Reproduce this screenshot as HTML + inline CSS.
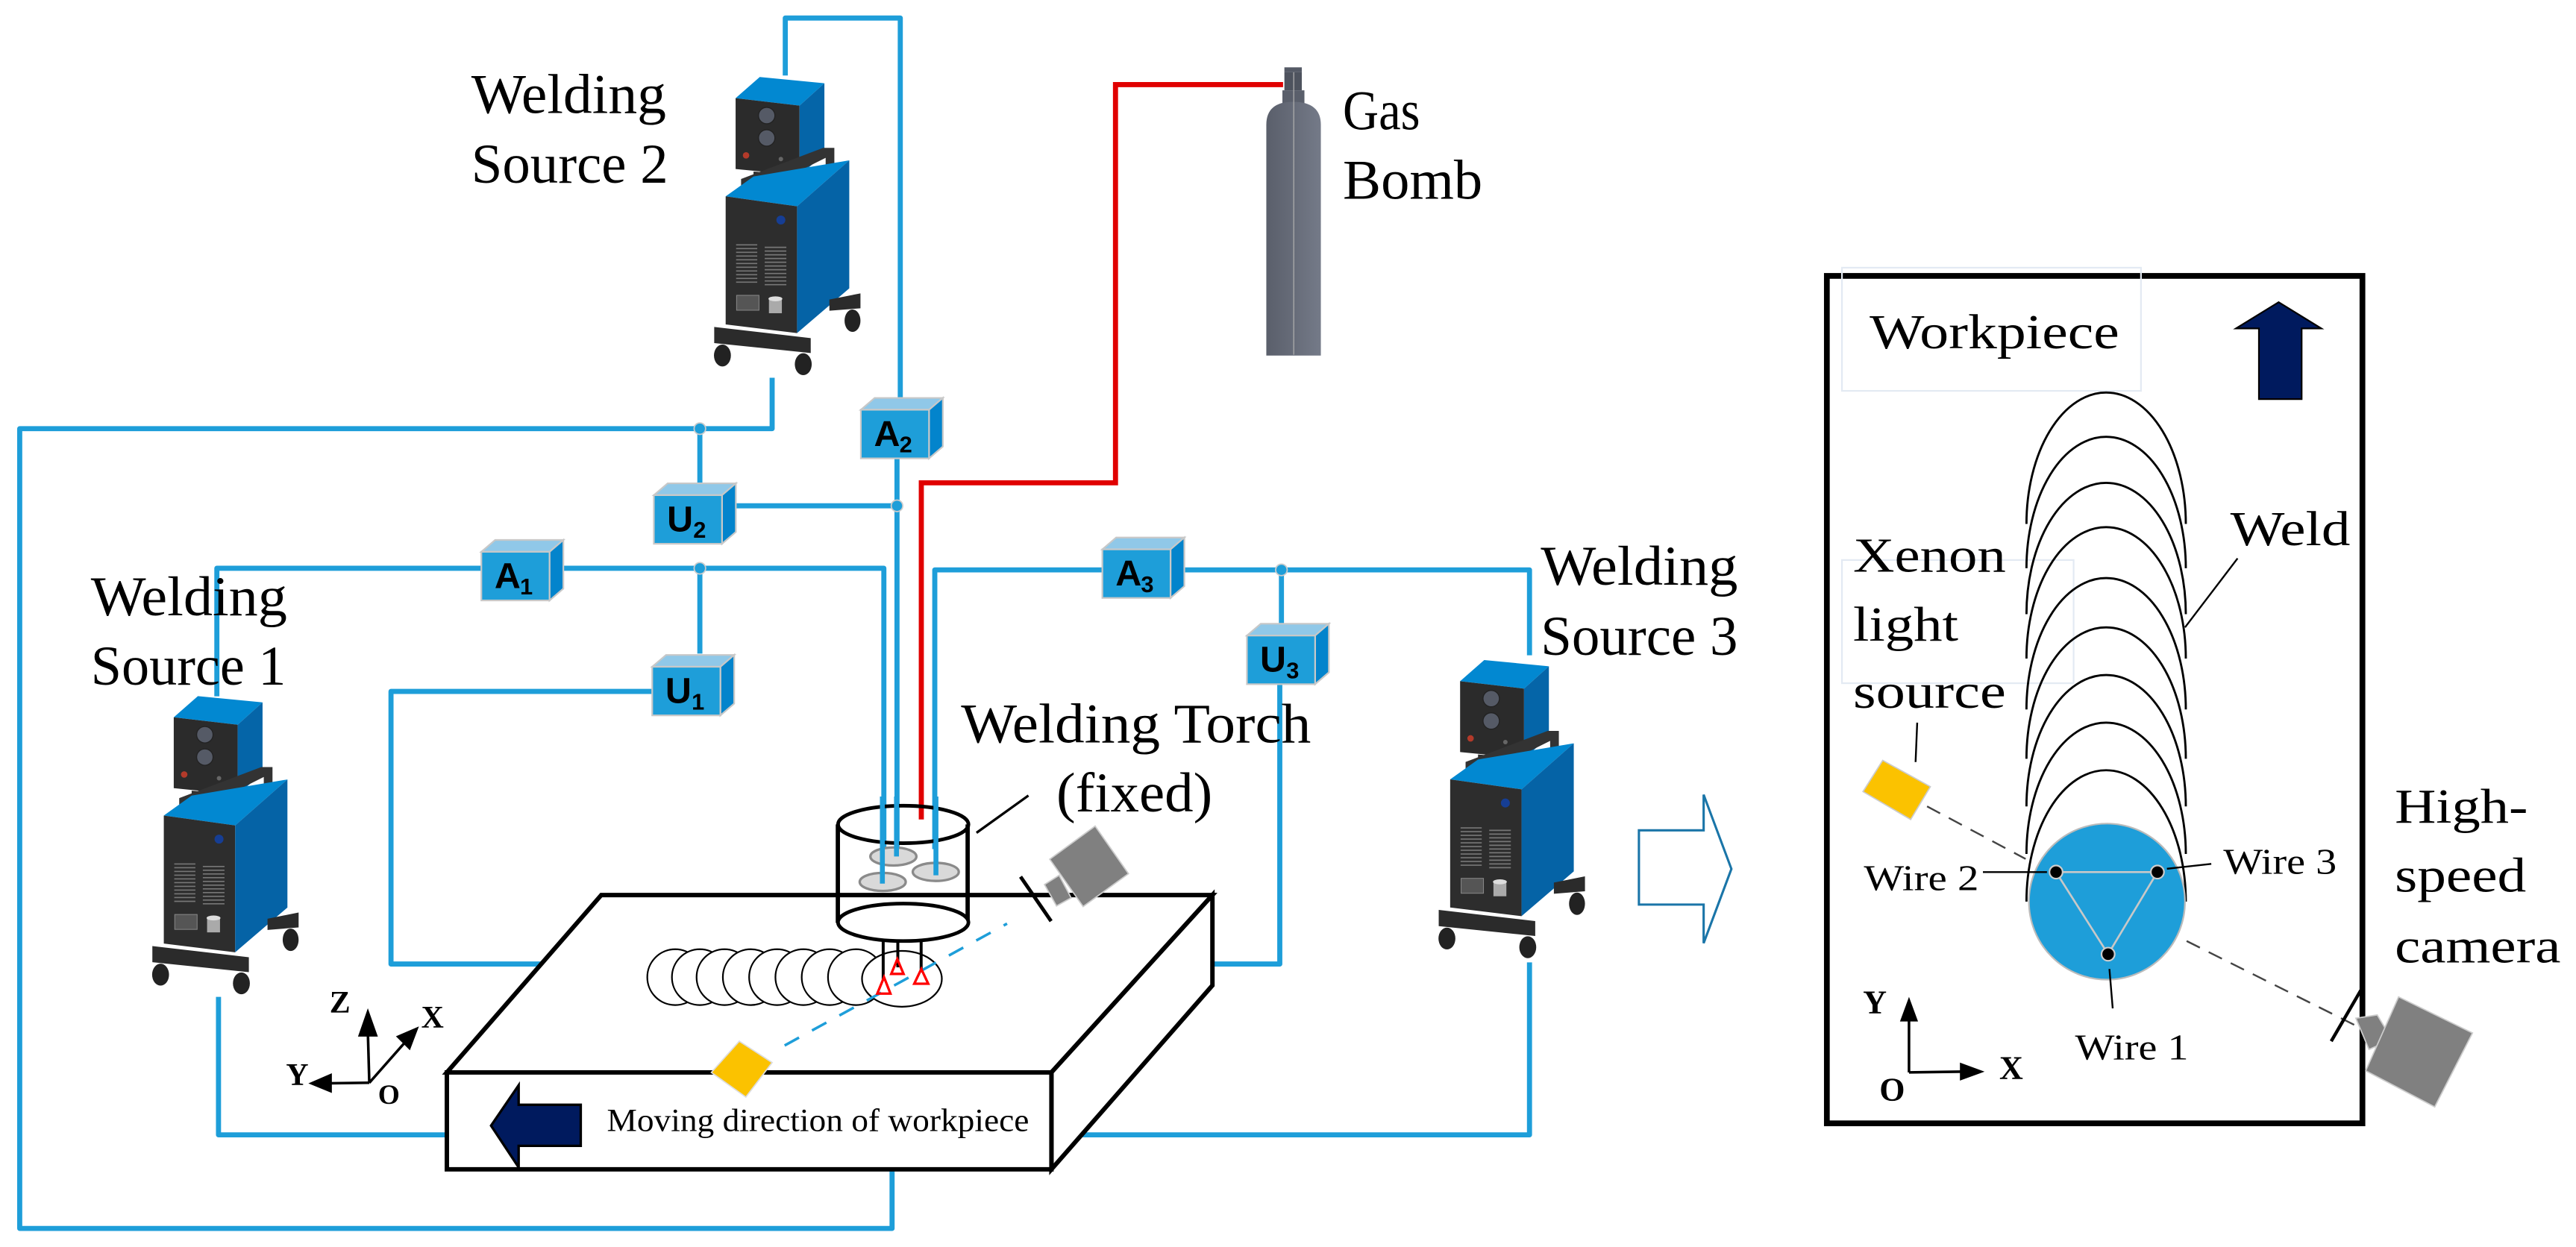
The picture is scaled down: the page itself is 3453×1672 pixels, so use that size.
<!DOCTYPE html>
<html><head><meta charset="utf-8"><style>
html,body{margin:0;padding:0;background:#fff}
svg{display:block}
text{font-family:"Liberation Serif",serif;fill:#000}
.b{fill:none;stroke:#1e9ed9;stroke-width:3.1;stroke-linejoin:round}
.k{fill:none;stroke:#000;stroke-width:2.6}
.lab{font-family:"Liberation Sans",sans-serif;font-weight:bold;font-size:22px}
.sub{font-family:"Liberation Sans",sans-serif;font-weight:bold;font-size:14px}
</style></head><body>
<svg width="3453" height="1672" viewBox="0 0 1568 759.3" preserveAspectRatio="none" xmlns="http://www.w3.org/2000/svg">
<defs>
<g id="mach">
 <polygon points="258,155 355,70 615,95 515,185" fill="#0288d1"/>
 <polygon points="258,155 515,185 515,465 258,440" fill="#2b2b2b"/>
 <polygon points="515,185 615,95 615,380 515,465" fill="#0565a8"/>
 <circle cx="383" cy="225" r="33" fill="#555a66" stroke="#222" stroke-width="4"/>
 <circle cx="383" cy="315" r="33" fill="#555a66" stroke="#222" stroke-width="4"/>
 <circle cx="300" cy="385" r="13" fill="#b33a2a"/>
 <circle cx="440" cy="400" r="9" fill="#666"/><circle cx="440" cy="430" r="9" fill="#666"/>
 <polygon points="330,450 450,460 450,520 330,510" fill="#2f2f2f"/>
 <polygon points="280,480 610,355 655,355 655,425 620,425 620,395 490,460 490,565 445,565 445,520 325,510 325,545 280,540" fill="#333"/>
 <polygon points="218,550 330,470 715,405 505,590" fill="#0288d1"/>
 <polygon points="218,550 505,590 505,1100 218,1065" fill="#2d2d2d"/>
 <polygon points="505,590 715,405 715,920 505,1100" fill="#0563a6"/>
 <circle cx="440" cy="645" r="18" fill="#163e94"/>
 <g stroke="#777" stroke-width="5">
  <path d="M260,745H345M260,760H345M260,775H345M260,790H345M260,805H345M260,820H345M260,835H345M260,850H345M260,865H345M260,880H345M260,895H345"/>
  <path d="M375,755H462M375,770H462M375,785H462M375,800H462M375,815H462M375,830H462M375,845H462M375,860H462M375,875H462M375,890H462M375,905H462"/>
 </g>
 <rect x="262" y="948" width="90" height="60" fill="#555" stroke="#888" stroke-width="3"/>
 <rect x="392" y="960" width="52" height="60" fill="#aaa"/><ellipse cx="418" cy="962" rx="28" ry="10" fill="#ddd"/>
 <polygon points="635,965 760,940 760,1000 635,1010" fill="#2b2b2b"/>
 <ellipse cx="728" cy="1050" rx="32" ry="45" fill="#222"/>
 <polygon points="172,1075 560,1120 560,1180 172,1140" fill="#2b2b2b"/>
 <ellipse cx="205" cy="1190" rx="34" ry="44" fill="#222"/>
 <ellipse cx="530" cy="1225" rx="34" ry="44" fill="#222"/>
</g>
</defs>

<!-- machines -->
<use href="#mach" transform="translate(408.7,36.3) scale(0.1514)"/>
<use href="#mach" transform="translate(66.7,413.3) scale(0.1514)"/>
<use href="#mach" transform="translate(849.7,391.3) scale(0.1514)"/>

<!-- blue wiring -->
<path class="b" d="M478,46V11H548V242M546,278V523"/>
<path class="b" d="M470,230V261H12V748H543V712"/>
<path class="b" d="M426,261V294M448,308H546"/>
<path class="b" d="M132,424V346H293M343,346H538V523"/>
<path class="b" d="M426,346V398M397,421H238V587H330"/>
<path class="b" d="M133,607V691H272"/>
<path class="b" d="M569,517V347H671M721,347H931V399"/>
<path class="b" d="M780,347V380M779,416V587H738"/>
<path class="b" d="M931,586V691H656"/>
<circle cx="426" cy="261" r="3.5" fill="#1e9ed9" stroke="#ccc" stroke-width="0.8"/>
<circle cx="546" cy="308" r="3.5" fill="#1e9ed9" stroke="#ccc" stroke-width="0.8"/>
<circle cx="426" cy="346" r="3.5" fill="#1e9ed9" stroke="#ccc" stroke-width="0.8"/>
<circle cx="780" cy="347" r="3.5" fill="#1e9ed9" stroke="#ccc" stroke-width="0.8"/>

<!-- red gas line -->
<path d="M560.8,499V294H679V51.5H781" fill="none" stroke="#e00000" stroke-width="3.1"/>

<!-- gas bomb -->
<defs><linearGradient id="gb" x1="0" x2="1"><stop offset="0" stop-color="#5a5f6b"/><stop offset="0.5" stop-color="#676c79"/><stop offset="1" stop-color="#747a88"/></linearGradient></defs>
<rect x="781.8" y="41" width="10.6" height="3" fill="#555a66"/>
<rect x="781.8" y="44" width="10.6" height="11" fill="#4e535e"/>
<rect x="780.6" y="55" width="13.4" height="8" fill="#5a5f6b"/>
<path d="M770.8,216.5V76Q770.8,62 787,62Q804,62 804,76V216.5Z" fill="url(#gb)"/>
<line x1="787.5" y1="44" x2="787.5" y2="216" stroke="#aaa" stroke-width="0.6"/>
<text x="817.4" y="78.7" font-size="34" textLength="47" lengthAdjust="spacingAndGlyphs">Gas</text>
<text x="817.4" y="121.1" font-size="34" textLength="85" lengthAdjust="spacingAndGlyphs">Bomb</text>

<!-- labels -->
<text x="286.9" y="68.9" font-size="34" textLength="118.6" lengthAdjust="spacingAndGlyphs">Welding</text>
<text x="286.9" y="111.3" font-size="34" textLength="119.8" lengthAdjust="spacingAndGlyphs">Source 2</text>
<text x="55.3" y="374.7" font-size="34" textLength="119.5" lengthAdjust="spacingAndGlyphs">Welding</text>
<text x="55.3" y="417" font-size="34" textLength="118.8" lengthAdjust="spacingAndGlyphs">Source 1</text>
<text x="937.8" y="356.1" font-size="34" textLength="120" lengthAdjust="spacingAndGlyphs">Welding</text>
<text x="937.8" y="398.7" font-size="34" textLength="120" lengthAdjust="spacingAndGlyphs">Source 3</text>
<text x="585" y="452" font-size="34" textLength="213" lengthAdjust="spacingAndGlyphs">Welding Torch</text>
<text x="643" y="494" font-size="34" textLength="95" lengthAdjust="spacingAndGlyphs">(fixed)</text>

<!-- A/U boxes -->
<g stroke="#c8c8c8" stroke-width="1">
<g transform="translate(293,336)"><polygon points="0,0 8.4,-7.2 49.9,-7.2 41.5,0" fill="#90c8e8"/><polygon points="41.5,0 49.9,-7.2 49.9,22.4 41.5,29.6" fill="#0384cc"/><rect width="41.5" height="29.6" fill="#1e9ed9"/></g>
<g transform="translate(524,249.5)"><polygon points="0,0 8.4,-7.2 49.9,-7.2 41.5,0" fill="#90c8e8"/><polygon points="41.5,0 49.9,-7.2 49.9,22.4 41.5,29.6" fill="#0384cc"/><rect width="41.5" height="29.6" fill="#1e9ed9"/></g>
<g transform="translate(398,301.5)"><polygon points="0,0 8.4,-7.2 49.9,-7.2 41.5,0" fill="#90c8e8"/><polygon points="41.5,0 49.9,-7.2 49.9,22.4 41.5,29.6" fill="#0384cc"/><rect width="41.5" height="29.6" fill="#1e9ed9"/></g>
<g transform="translate(397,406)"><polygon points="0,0 8.4,-7.2 49.9,-7.2 41.5,0" fill="#90c8e8"/><polygon points="41.5,0 49.9,-7.2 49.9,22.4 41.5,29.6" fill="#0384cc"/><rect width="41.5" height="29.6" fill="#1e9ed9"/></g>
<g transform="translate(671,334.5)"><polygon points="0,0 8.4,-7.2 49.9,-7.2 41.5,0" fill="#90c8e8"/><polygon points="41.5,0 49.9,-7.2 49.9,22.4 41.5,29.6" fill="#0384cc"/><rect width="41.5" height="29.6" fill="#1e9ed9"/></g>
<g transform="translate(759,387)"><polygon points="0,0 8.4,-7.2 49.9,-7.2 41.5,0" fill="#90c8e8"/><polygon points="41.5,0 49.9,-7.2 49.9,22.4 41.5,29.6" fill="#0384cc"/><rect width="41.5" height="29.6" fill="#1e9ed9"/></g>
</g>
<text class="lab" x="301" y="358">A</text><text class="sub" x="316.5" y="362">1</text>
<text class="lab" x="532" y="271.5">A</text><text class="sub" x="547.5" y="275.5">2</text>
<text class="lab" x="406" y="323.5">U</text><text class="sub" x="422" y="327.5">2</text>
<text class="lab" x="405" y="428">U</text><text class="sub" x="421" y="432">1</text>
<text class="lab" x="679" y="356.5">A</text><text class="sub" x="694.5" y="360.5">3</text>
<text class="lab" x="767" y="409">U</text><text class="sub" x="783" y="413">3</text>

<!-- workpiece block -->
<polygon points="366,545 738,545 640,653 272,653" fill="#fff" stroke="#000" stroke-width="2.7" stroke-linejoin="miter"/>
<polygon points="738,545 738,600 640,712 640,653" fill="#fff" stroke="#000" stroke-width="2.7"/>
<rect x="272" y="653" width="368" height="59" fill="#fff" stroke="#000" stroke-width="2.7"/>
<polygon points="298.9,685.4 315.7,660.8 315.7,672.7 353.5,672.7 353.5,697.7 315.7,697.7 315.7,710.8" fill="#001a5e" stroke="#000" stroke-width="1.5"/>
<text x="369.4" y="688.8" font-size="19.5" textLength="257" lengthAdjust="spacingAndGlyphs">Moving direction of workpiece</text>

<!-- weld bead ellipses -->
<g fill="#fff" stroke="#000" stroke-width="1">
<ellipse cx="411" cy="595" rx="17" ry="17"/><ellipse cx="426" cy="595" rx="17" ry="17"/>
<ellipse cx="441" cy="595" rx="17" ry="17"/><ellipse cx="457" cy="595" rx="17" ry="17"/>
<ellipse cx="473" cy="595" rx="17" ry="17"/><ellipse cx="489" cy="595" rx="17" ry="17"/>
<ellipse cx="505" cy="595" rx="17" ry="17"/><ellipse cx="521" cy="595" rx="17" ry="17"/>
<ellipse cx="549" cy="596" rx="24.3" ry="17"/>
</g>

<!-- dashed blue light path -->
<line x1="477.6" y1="636.6" x2="613" y2="562.4" stroke="#1e9ed9" stroke-width="1.6" stroke-dasharray="10,9"/>
<polygon points="433,653 450,634 470,647 454,668" fill="#fbc200" stroke="#ddd" stroke-width="0.8"/>

<!-- torch -->
<path d="M510,502V562M589,502V562" class="k" stroke-width="1.6"/>
<ellipse cx="549.8" cy="502" rx="39.7" ry="11.4" fill="none" stroke="#000" stroke-width="2.2"/>
<ellipse cx="549.8" cy="561.6" rx="39.7" ry="11.4" fill="#fff" stroke="#000" stroke-width="2.2"/>
<g fill="#d9d9d9" stroke="#8a8a8a" stroke-width="1.5">
<ellipse cx="543.8" cy="521.5" rx="14" ry="5.5"/><ellipse cx="569.6" cy="530.9" rx="14" ry="5.5"/><ellipse cx="537.3" cy="537" rx="14" ry="5.5"/>
</g>
<path d="M537.1,485V538M545.7,485V521.5M569.7,485V533" stroke="#1e9ed9" stroke-width="3" fill="none"/>
<path d="M537.6,573V597M546.5,573V589M560.7,573V592" stroke="#000" stroke-width="1.8" fill="none"/>
<g fill="none" stroke="#ff0000" stroke-width="1.5">
<polygon points="538.1,595 534,605 542,605"/><polygon points="546.2,584 542.5,593 550,593"/><polygon points="560.8,590 556.5,599 565,599"/>
</g>
<line x1="594.4" y1="507.1" x2="626" y2="484.4" stroke="#000" stroke-width="1.5"/>
<!-- camera left -->
<line x1="621.2" y1="533.8" x2="639.8" y2="560.9" stroke="#000" stroke-width="2.2"/>
<polygon points="635.8,538.6 644.7,533 652,546.7 643.1,551.6" fill="#808080" stroke="#ccc" stroke-width="0.8"/>
<polygon points="639,523.2 666.6,503 686.9,532 659.3,552" fill="#808080" stroke="#ccc" stroke-width="0.8"/>

<!-- axes left -->
<g stroke="#000" stroke-width="1.6" fill="#000">
<line x1="224.8" y1="659.3" x2="223.9" y2="628"/><polygon points="223.9,613.9 217.9,631.2 230,631.2" stroke="none"/>
<line x1="224.8" y1="659.3" x2="248" y2="633"/><polygon points="255,625 241,631 249.5,639.5" stroke="none"/>
<line x1="224.8" y1="659.3" x2="200" y2="659.6"/><polygon points="187.7,659.7 202,653.5 202,665.5" stroke="none"/>
</g>
<g font-weight="bold" font-size="19">
<text x="200.6" y="616.8">Z</text><text x="256.4" y="625.9">X</text><text x="174.1" y="660.7">Y</text><text x="230.1" y="672.1" font-size="17">O</text>
</g>

<!-- hollow arrow -->
<polygon points="997.6,505.6 1037,505.6 1037,483.9 1053.9,529.1 1037,574.3 1037,550.8 997.6,550.8" fill="#fff" stroke="#1a75a8" stroke-width="1.4"/>

<!-- right panel -->
<rect x="1112" y="168" width="326" height="516" fill="#fff" stroke="#000" stroke-width="3.5"/>
<rect x="1121.2" y="163" width="182" height="75" fill="none" stroke="#e3eaf3" stroke-width="1"/>
<rect x="1121.2" y="341" width="141" height="75" fill="none" stroke="#e3eaf3" stroke-width="1"/>
<text x="1138" y="212" font-size="30" textLength="152" lengthAdjust="spacingAndGlyphs">Workpiece</text>
<polygon points="1387,184 1413,200 1401,200 1401,243 1375,243 1375,200 1361,200" fill="#001a5e" stroke="#000" stroke-width="1"/>
<g fill="none" stroke="#000" stroke-width="1.3">
<path d="M1233.5,319A48.5,80 0 0 1 1330.5,319"/>
<path d="M1233.5,346A48.5,80 0 0 1 1330.5,346"/>
<path d="M1233.5,374A48.5,80 0 0 1 1330.5,374"/>
<path d="M1233.5,401A48.5,80 0 0 1 1330.5,401"/>
<path d="M1233.5,432A48.5,80 0 0 1 1330.5,432"/>
<path d="M1233.5,462A48.5,80 0 0 1 1330.5,462"/>
<path d="M1233.5,491A48.5,80 0 0 1 1330.5,491"/>
<path d="M1233.5,520A48.5,80 0 0 1 1330.5,520"/>
<path d="M1233.5,549A48.5,80 0 0 1 1330.5,549"/>
</g>
<circle cx="1282.5" cy="549" r="47.5" fill="#1e9ed9" stroke="#bbb" stroke-width="1"/>
<polygon points="1251.5,531 1313.2,531 1283.2,581" fill="none" stroke="#c8c8c8" stroke-width="1.2"/>
<g fill="#000" stroke="#ccc" stroke-width="1"><circle cx="1251.5" cy="531" r="4"/><circle cx="1313.2" cy="531" r="4"/><circle cx="1283.2" cy="581" r="4"/></g>
<g stroke="#000" stroke-width="1.1">
<line x1="1207" y1="531" x2="1246" y2="531"/><line x1="1319" y1="529" x2="1346" y2="526"/><line x1="1284" y1="590" x2="1286" y2="614"/>
<line x1="1330" y1="382" x2="1362" y2="340"/><line x1="1167" y1="440" x2="1166" y2="464"/>
</g>
<text x="1134.5" y="542" font-size="22" textLength="70" lengthAdjust="spacingAndGlyphs">Wire 2</text>
<text x="1353.3" y="532" font-size="22" textLength="69" lengthAdjust="spacingAndGlyphs">Wire 3</text>
<text x="1263.1" y="645" font-size="22" textLength="69" lengthAdjust="spacingAndGlyphs">Wire 1</text>
<text x="1357.6" y="332" font-size="30" textLength="73" lengthAdjust="spacingAndGlyphs">Weld</text>
<text x="1128" y="348" font-size="30" textLength="93" lengthAdjust="spacingAndGlyphs">Xenon</text>
<text x="1128" y="390" font-size="30" textLength="64" lengthAdjust="spacingAndGlyphs">light</text>
<text x="1128" y="431" font-size="30" textLength="93" lengthAdjust="spacingAndGlyphs">source</text>
<text x="1457.7" y="501" font-size="30" textLength="81" lengthAdjust="spacingAndGlyphs">High-</text>
<text x="1457.7" y="543" font-size="30" textLength="80" lengthAdjust="spacingAndGlyphs">speed</text>
<text x="1457.7" y="586" font-size="30" textLength="101" lengthAdjust="spacingAndGlyphs">camera</text>
<polygon points="1134,482 1146,463 1175,479 1163,499" fill="#fbc200" stroke="#ccc" stroke-width="0.8"/>
<line x1="1173" y1="491" x2="1233" y2="523" stroke="#444" stroke-width="1.1" stroke-dasharray="9,6"/>
<line x1="1331" y1="573" x2="1433" y2="624" stroke="#444" stroke-width="1.1" stroke-dasharray="9,6"/>
<line x1="1419" y1="634" x2="1437" y2="603" stroke="#000" stroke-width="2"/>
<polygon points="1434,620 1447,618 1456,633 1442,639" fill="#808080" stroke="#ccc" stroke-width="0.8"/>
<polygon points="1460,607 1505,629 1482,674 1440,652" fill="#808080" stroke="#ccc" stroke-width="0.8"/>
<g stroke="#000" stroke-width="1.6" fill="#000">
<line x1="1162" y1="653" x2="1162" y2="620"/><polygon points="1162,607 1156.5,622 1167.5,622" stroke="none"/>
<line x1="1162" y1="653" x2="1196" y2="652.5"/><polygon points="1208,652.5 1193,647 1193,658" stroke="none"/>
</g>
<g font-weight="bold" font-size="20">
<text x="1134" y="617">Y</text><text x="1144" y="670">O</text><text x="1217" y="657">X</text>
</g>
</svg>
</body></html>
